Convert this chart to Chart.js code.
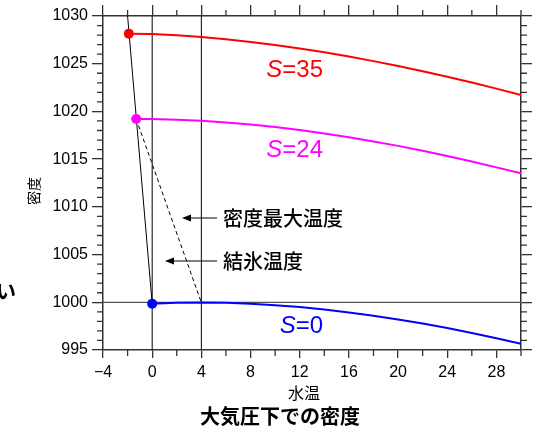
<!DOCTYPE html>
<html>
<head>
<meta charset="utf-8">
<script src="https://cdn.jsdelivr.net/npm/chart.js@4"></script>
<style>
  body { margin: 0; background: #fff; }
  #c { display: block; }
</style>
</head>
<body>
<canvas id="c" width="539" height="430"></canvas>
<script>
// 水温 (°C) and density (kg/m3)
const temps  = [0, 2, 4, 6, 8, 10, 12, 14, 16, 18, 20, 22, 24, 26, 28, 30];
const rhoS35 = [1028.11, 1027.98, 1027.79, 1027.56, 1027.28, 1026.96, 1026.59, 1026.19, 1025.75, 1025.27, 1024.76, 1024.22, 1023.64, 1023.03, 1022.39, 1021.73];
const rhoS24 = [1019.20, 1019.14, 1019.02, 1018.85, 1018.63, 1018.37, 1018.05, 1017.69, 1017.30, 1016.86, 1016.39, 1015.88, 1015.34, 1014.75, 1014.14, 1013.51];
const rhoS0  = [999.84, 999.94, 999.97, 999.94, 999.85, 999.70, 999.50, 999.24, 998.94, 998.60, 998.20, 997.77, 997.30, 996.78, 996.23, 995.65];

// freezing points (S=35, S=24, S=0)
const freezeT   = [-1.9, -1.3, 0];
const freezeRho = [1028.15, 1019.21, 999.84];
const freezeCol = ['#ff0000', '#ff00ff', '#0000ff'];

// 結氷温度 line and 密度最大温度 line
const freezeLineT   = [-2.0, 0];
const freezeLineRho = [1030, 999.84];
const maxDensT      = [-1.3, 4];
const maxDensRho    = [1019.21, 999.97];

// axis ticks
const xMajor = [-4, 0, 4, 8, 12, 16, 20, 24, 28];
const xMinor = [-2, 2, 6, 10, 14, 18, 22, 26, 30];
const yMajor = [995, 1000, 1005, 1010, 1015, 1020, 1025, 1030];
const yMinor = [];
for (let v = 996; v < 1030; v++) if (v % 5) yMinor.push(v);

const pts = (xs, ys) => xs.map((x, i) => ({x: x, y: ys[i]}));

const tickFont = {family: "'Liberation Sans', Arial, sans-serif", size: 16};
const axisCol = '#333';

function mkX(pos, tl, h, showLabels) {
  return {
    type: 'linear', position: pos, min: -4, max: 30,
    afterBuildTicks: s => { s.ticks = xMajor.map(v => ({value: v})); },
    afterFit: s => { s.height = h; },
    ticks: {display: showLabels, padding: 5, color: '#000', font: tickFont,
            callback: v => String(v).replace('-', '\u2212')},
    grid: {drawOnChartArea: false, tickLength: tl, color: axisCol, lineWidth: 1.3},
    border: {color: axisCol, width: 1.5}
  };
}
function mkY(pos, tl, w, showLabels) {
  return {
    type: 'linear', position: pos, min: 995, max: 1030,
    afterBuildTicks: s => { s.ticks = yMajor.map(v => ({value: v})); },
    afterFit: s => { s.width = w; },
    ticks: {display: showLabels, padding: 4, color: '#000', font: tickFont,
            callback: v => String(v)},
    grid: {drawOnChartArea: false, tickLength: tl, color: axisCol, lineWidth: 1.3},
    border: {color: axisCol, width: 1.5}
  };
}

// minor ticks, labels, arrows
const extras = {
  id: 'extras',
  afterDraw(chart) {
    const ctx = chart.ctx, a = chart.chartArea;
    const sx = chart.scales.x, sy = chart.scales.y;
    ctx.save();
    ctx.strokeStyle = axisCol;
    ctx.lineWidth = 1.3;
    ctx.beginPath();
    xMinor.forEach(v => {
      const p = sx.getPixelForValue(v);
      ctx.moveTo(p, a.bottom); ctx.lineTo(p, a.bottom + 6);
      ctx.moveTo(p, a.top); ctx.lineTo(p, a.top - 6);
    });
    yMinor.forEach(v => {
      const p = sy.getPixelForValue(v);
      ctx.moveTo(a.left, p); ctx.lineTo(a.left - 6, p);
      ctx.moveTo(a.right, p); ctx.lineTo(a.right + 6, p);
    });
    ctx.stroke();

    // S= labels
    const sLabel = (num, col, xr, yb) => {
      ctx.fillStyle = col;
      ctx.textBaseline = 'alphabetic';
      ctx.textAlign = 'right';
      ctx.font = "24px 'Liberation Sans', Arial, sans-serif";
      const rest = '=' + num;
      ctx.fillText(rest, xr, yb);
      const w = ctx.measureText(rest).width;
      ctx.font = "italic 24px 'Liberation Sans', Arial, sans-serif";
      ctx.fillText('S', xr - w, yb);
    };
    sLabel('35', '#ff0000', 323, 77);
    sLabel('24', '#ff00ff', 323, 157);
    sLabel('0', '#0000ff', 323, 333);

    // arrows
    const arrow = (x0, x1, y) => {
      ctx.strokeStyle = '#000';
      ctx.fillStyle = '#000';
      ctx.lineWidth = 1;
      ctx.beginPath();
      ctx.moveTo(x0, y); ctx.lineTo(x1 + 6, y);
      ctx.stroke();
      ctx.beginPath();
      ctx.moveTo(x1, y); ctx.lineTo(x1 + 9, y - 3.5); ctx.lineTo(x1 + 9, y + 3.5);
      ctx.closePath();
      ctx.fill();
    };
    arrow(217, 182, 218);
    arrow(217, 165, 261);

    const jp = "'Noto Sans CJK JP', sans-serif";
    ctx.fillStyle = '#000';
    ctx.textAlign = 'left';
    ctx.textBaseline = 'middle';
    ctx.font = '500 20px ' + jp;
    ctx.fillText('密度最大温度', 223, 218);
    ctx.fillText('結氷温度', 223, 261);

    ctx.font = 'bold 20px ' + jp;
    ctx.fillText('い', -4, 291);

    ctx.textAlign = 'center';
    ctx.font = '16px ' + jp;
    ctx.fillText('水温', 304, 393);
    ctx.font = 'bold 20px ' + jp;
    ctx.fillText('大気圧下での密度', 280, 416);

    ctx.save();
    ctx.translate(34, 191);
    ctx.rotate(-Math.PI / 2);
    ctx.font = '14px ' + jp;
    ctx.fillText('密度', 0, 0);
    ctx.restore();
    ctx.restore();
  }
};

new Chart(document.getElementById('c'), {
  type: 'line',
  data: {
    datasets: [
      {label: 'S=35', data: pts([freezeT[0]].concat(temps), [freezeRho[0]].concat(rhoS35)),
       borderColor: '#ff0000', borderWidth: 2, pointRadius: 0, order: 1},
      {label: 'S=24', data: pts([freezeT[1]].concat(temps), [freezeRho[1]].concat(rhoS24)),
       borderColor: '#ff00ff', borderWidth: 2, pointRadius: 0, order: 1},
      {label: 'S=0', data: pts(temps, rhoS0),
       borderColor: '#0000ff', borderWidth: 2, pointRadius: 0, order: 1},
      {label: '結氷点', data: pts(freezeT, freezeRho), showLine: false,
       pointRadius: 5, pointBackgroundColor: freezeCol, pointBorderColor: freezeCol,
       pointBorderWidth: 0, order: 0},
      {label: '結氷温度', data: pts(freezeLineT, freezeLineRho),
       borderColor: '#000', borderWidth: 1, pointRadius: 0, order: 3},
      {label: '密度最大温度', data: pts(maxDensT, maxDensRho),
       borderColor: '#000', borderWidth: 1, borderDash: [4, 3], pointRadius: 0, order: 3},
      {label: 'T=0', data: pts([0, 0], [995, 1030]),
       borderColor: '#000', borderWidth: 1, pointRadius: 0, order: 4},
      {label: 'T=4', data: pts([4, 4], [995, 1030]),
       borderColor: '#000', borderWidth: 1, pointRadius: 0, order: 4},
      {label: '1000', data: pts([-4, 30], [1000, 1000]),
       borderColor: '#555', borderWidth: 1.3, pointRadius: 0, order: 4}
    ]
  },
  options: {
    responsive: false,
    animation: false,
    devicePixelRatio: 1,
    layout: {padding: 0},
    plugins: {legend: {display: false}, tooltip: {enabled: false}, title: {display: false}},
    scales: {
      x: mkX('bottom', 8, 80, true),
      x2: mkX('top', 11, 16, false),
      y: mkY('left', 11, 103, true),
      y2: mkY('right', 11, 18, false)
    }
  },
  plugins: [extras]
});
</script>
</body>
</html>
